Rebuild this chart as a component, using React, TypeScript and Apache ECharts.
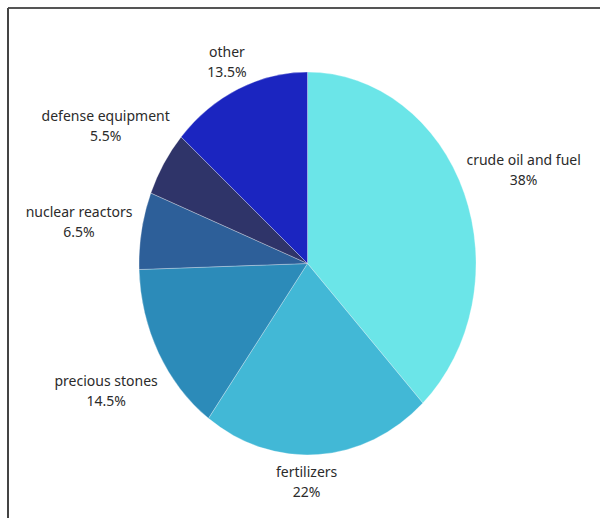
import { useEffect, useRef } from 'react';
import * as echarts from 'echarts';

const categories = ['crude oil and fuel', 'fertilizers', 'precious stones', 'nuclear reactors', 'defense equipment', 'other'];
const shares = [38, 22, 14.5, 6.5, 5.5, 13.5];
const percentLabels = ['38%', '22%', '14.5%', '6.5%', '5.5%', '13.5%'];
const colors = ['#6be5e8', '#42b8d6', '#2c8bb9', '#2d5f99', '#2f3469', '#1b25c0'];
// small label adjustments (pixels) relative to computed outside positions
const labelNudge = [[-3, -12], [-14, -3], [2, 23], [0, -4], [5, -22], [1, 0]];

const CENTER = [307.5, 263.5];
const RADIUS_X = 168.5;
const RADIUS_Y = 191.5;
const FONT = '14px "Noto Sans"';
const LINE_H = 20;

export default function App() {
  const ref = useRef<HTMLDivElement>(null);

  useEffect(() => {
    if (!ref.current) return;
    const chart = echarts.init(ref.current, undefined, { renderer: 'svg' });

    const total = shares.reduce((a, b) => a + b, 0);
    let acc = 0;
    const items = shares.map((v, i) => {
      const start = (acc / total) * 100;
      acc += v;
      const end = (acc / total) * 100;
      return [start, end, i];
    });

    const scaleY = RADIUS_Y / RADIUS_X;

    const renderItem = (params: any, api: any) => {
      const start = api.value(0);
      const end = api.value(1);
      const idx = api.value(2);
      const cs = params.coordSys;
      const cx = cs.cx;
      const cy = cs.cy;
      const r = cs.r;
      const p0 = api.coord([1, start]);
      const p1 = api.coord([1, end]);
      let a0 = Math.atan2(p0[1] - cy, p0[0] - cx);
      let a1 = Math.atan2(p1[1] - cy, p1[0] - cx);
      while (a1 <= a0) a1 += Math.PI * 2;
      const am = (a0 + a1) / 2;
      const cosA = Math.cos(am);
      const sinA = Math.sin(am);
      const text = categories[idx] + '\n' + percentLabels[idx];
      const measure = new (echarts.graphic as any).Text({ style: { text, font: FONT, lineHeight: LINE_H } });
      const rect = measure.getBoundingRect();
      const hw = rect.width / 2;
      const hh = rect.height / 2;
      const ax = cx + r * cosA;
      const ay = cy + r * scaleY * sinA;
      const lx = ax + cosA * (10 + hw) + labelNudge[idx][0];
      const ly = ay + sinA * (10 + hh) + labelNudge[idx][1];
      return {
        type: 'group',
        children: [
          {
            type: 'sector',
            x: cx,
            y: cy,
            scaleY: scaleY,
            shape: { cx: 0, cy: 0, r0: 0, r, startAngle: a0, endAngle: a1, clockwise: true },
            style: { fill: colors[idx], stroke: 'rgba(255,255,255,0.45)', lineWidth: 0.6 },
          },
          {
            type: 'text',
            x: lx,
            y: ly,
            style: {
              text,
              font: FONT,
              lineHeight: LINE_H,
              fill: '#2b2b2b',
              align: 'center',
              verticalAlign: 'middle',
            },
          },
        ],
      };
    };

    chart.setOption({
      animation: false,
      backgroundColor: '#ffffff',
      polar: { center: CENTER, radius: RADIUS_X },
      angleAxis: { type: 'value', min: 0, max: 100, startAngle: 90, clockwise: true, show: false },
      radiusAxis: { type: 'value', min: 0, max: 1, show: false },
      graphic: [
        { type: 'line', shape: { x1: 8, y1: 8, x2: 600, y2: 8 }, style: { stroke: '#555555', lineWidth: 2 } },
        { type: 'line', shape: { x1: 8, y1: 8, x2: 8, y2: 518 }, style: { stroke: '#444444', lineWidth: 2 } },
      ],
      series: [
        {
          type: 'custom',
          coordinateSystem: 'polar',
          renderItem,
          data: items,
          clip: false,
        },
      ],
    });

    return () => chart.dispose();
  }, []);

  return <div ref={ref} style={{ position: 'fixed', left: 0, top: 0, width: 600, height: 518 }} />;
}
